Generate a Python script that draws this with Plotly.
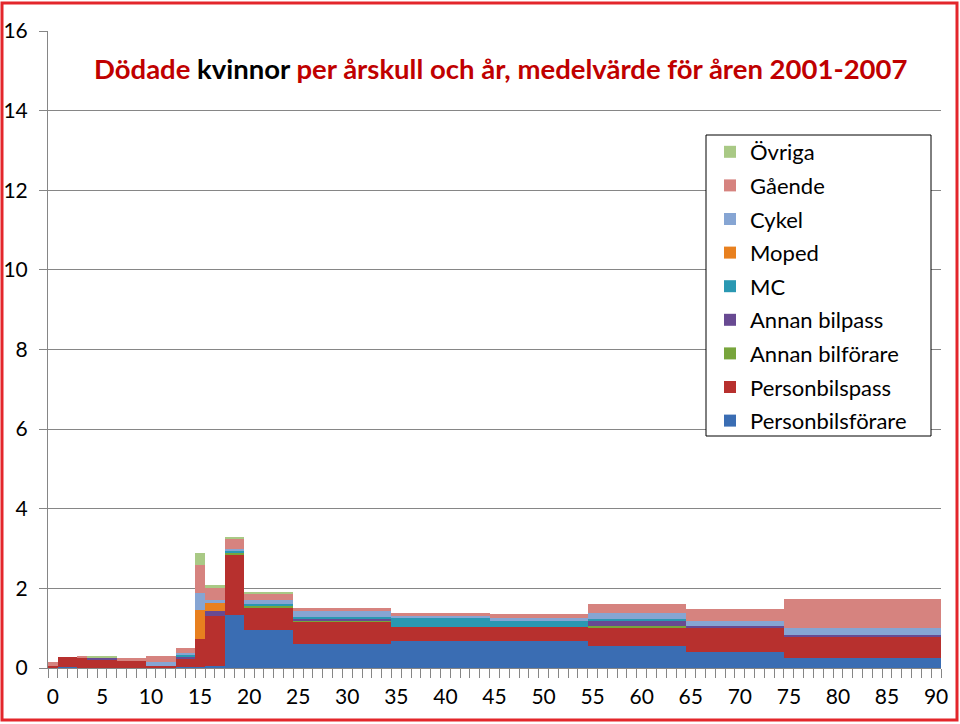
import plotly.graph_objects as go

# Age groups (first and last age of each group)
age_start = [0, 1, 3, 4, 7, 10, 13, 15, 16, 18, 20, 25, 35, 45, 55, 65, 75]
age_end   = [0, 2, 3, 6, 9, 12, 14, 15, 17, 19, 24, 34, 44, 54, 64, 74, 90]

# Killed women per age-year (mean 2001-2007), per road-user category
personbilsforare = [0, 0.02, 0, 0, 0, 0, 0.02, 0.03, 0.04, 1.33, 0.95, 0.60, 0.68, 0.68, 0.55, 0.41, 0.24]
personbilspass   = [0.04, 0.26, 0.26, 0.22, 0.18, 0.05, 0.22, 0.69, 1.26, 1.51, 0.55, 0.57, 0.36, 0.36, 0.47, 0.61, 0.55]
annan_bilforare  = [0, 0, 0, 0, 0, 0, 0, 0, 0, 0.05, 0.06, 0.02, 0, 0, 0.03, 0, 0]
annan_bilpass    = [0, 0, 0, 0.04, 0, 0, 0.03, 0, 0.13, 0, 0.02, 0.04, 0, 0, 0.14, 0.03, 0.04]
mc               = [0, 0, 0, 0, 0, 0, 0.07, 0, 0, 0.06, 0.04, 0.06, 0.22, 0.14, 0.03, 0, 0]
moped            = [0, 0, 0, 0, 0, 0, 0, 0.74, 0.21, 0, 0, 0, 0, 0, 0, 0, 0]
cykel            = [0, 0, 0, 0, 0, 0.11, 0.03, 0.42, 0.08, 0.03, 0.08, 0.13, 0.05, 0.08, 0.17, 0.13, 0.17]
gaende           = [0.10, 0, 0.05, 0, 0.06, 0.14, 0.14, 0.71, 0.30, 0.27, 0.15, 0.08, 0.08, 0.09, 0.22, 0.29, 0.73]
ovriga           = [0, 0, 0, 0.04, 0, 0, 0, 0.30, 0.07, 0.05, 0.06, 0, 0, 0, 0, 0, 0]

series_names = ["Personbilsförare", "Personbilspass", "Annan bilförare", "Annan bilpass",
                "MC", "Moped", "Cykel", "Gående", "Övriga"]
series_values = [personbilsforare, personbilspass, annan_bilforare, annan_bilpass,
                 mc, moped, cykel, gaende, ovriga]
series_colors = ["#3A6DB3", "#B7302E", "#78A53C", "#684A92", "#2A98B2",
                 "#E8801F", "#86A5D3", "#D6837F", "#A9C985"]

x_labels = list(range(0, 91, 5))

centers = [(s + e) / 2 for s, e in zip(age_start, age_end)]
widths = [e - s + 1 for s, e in zip(age_start, age_end)]

FONT = "Lato"

fig = go.Figure()
n = len(series_names)
for i, (name, vals, col) in enumerate(zip(series_names, series_values, series_colors)):
    fig.add_trace(go.Bar(
        x=centers, y=vals, width=widths, name=name,
        marker=dict(color=col, line=dict(width=0)),
        legendgroup=name, legendrank=n - i,
    ))

# plot area in pixels
L, R, T, B = 48, 941, 31, 668
W, H = 960, 724
def px(xp):
    return (xp - L) / (R - L)
def py(yp):
    return 1 - (yp - T) / (B - T)

fig.update_layout(
    width=W, height=H,
    margin=dict(l=L, r=W - R, t=T, b=H - B, pad=0, autoexpand=False),
    barmode="stack", bargap=0,
    plot_bgcolor="white", paper_bgcolor="white",
    font=dict(family=FONT, size=20, color="black"),
    showlegend=True,
    legend=dict(
        x=px(710), y=py(131), xanchor="left", yanchor="top",
        traceorder="grouped", tracegroupgap=2,
        borderwidth=0, bgcolor="rgba(0,0,0,0)",
        font=dict(family=FONT, size=22, color="black"),
        itemclick=False,
    ),
    xaxis=dict(
        range=[-0.5, 90.5], tickmode="array", tickvals=x_labels,
        ticktext=[str(v) for v in x_labels], ticks="", showgrid=False,
        showline=True, linecolor="#868686", linewidth=1, zeroline=False,
        tickfont=dict(family=FONT, size=21, color="black"),
        minor=dict(tick0=-0.5, dtick=1, ticks="outside", ticklen=9,
                   tickcolor="#868686", tickwidth=1, showgrid=False),
        ticklabelstandoff=10, automargin=False,
    ),
    yaxis=dict(
        range=[0, 16], dtick=2, tick0=0, showgrid=True, gridcolor="#868686",
        gridwidth=1, showline=True, linecolor="#868686", linewidth=1,
        zeroline=False, ticks="outside", ticklen=8, tickcolor="#868686",
        tickfont=dict(family=FONT, size=21, color="black"),
        ticklabelstandoff=7, automargin=False,
    ),
    annotations=[dict(
        x=px(500), y=py(68), xref="paper", yref="paper", showarrow=False,
        xanchor="center", yanchor="middle",
        text=("<b><span style='color:#C00000'>Dödade </span>"
              "<span style='color:black'>kvinnor</span>"
              "<span style='color:#C00000'> per årskull och år, medelvärde för åren 2001-2007</span></b>"),
        font=dict(family=FONT, size=27.5, color="#C00000"),
    )],
    shapes=[
        dict(type="rect", xref="paper", yref="paper",
             x0=px(706), x1=px(931), y0=py(436), y1=py(135),
             line=dict(color="black", width=1), fillcolor="white",
             layer="above"),
        dict(type="rect", xref="paper", yref="paper",
             x0=px(2), x1=px(957), y0=py(720), y1=py(3),
             line=dict(color="#E3262B", width=3), fillcolor="rgba(0,0,0,0)",
             layer="above"),
    ],
)

fig.write_html("out.html",
               config={"displayModeBar": False},
               post_script="document.body.style.margin='0';document.body.style.overflow='hidden';")
